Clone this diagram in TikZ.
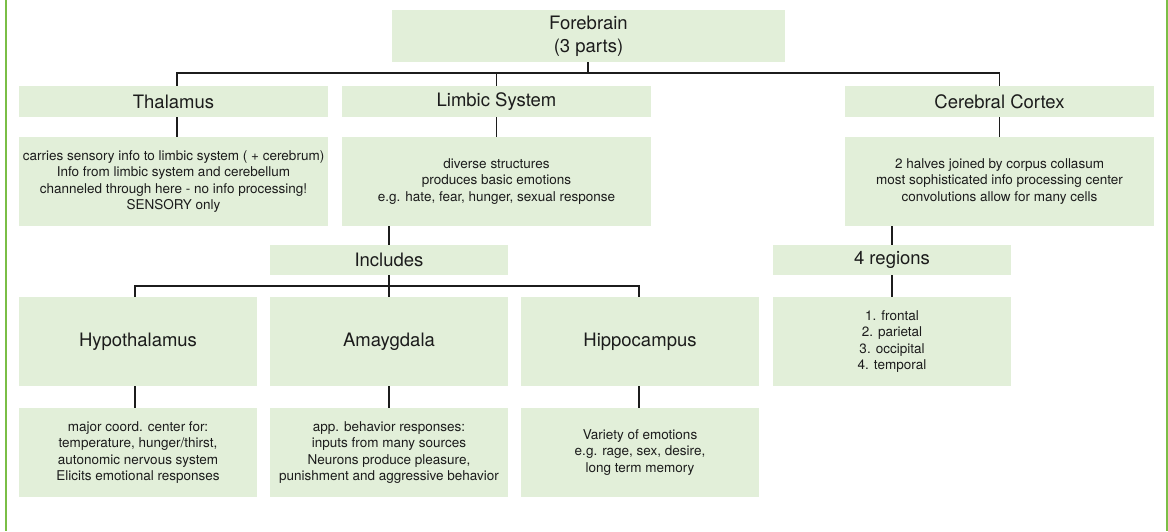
\documentclass[tikz,border=0pt]{standalone}
\usepackage{fontspec}
\setmainfont{TeX Gyre Heros}
\definecolor{boxfill}{HTML}{E2EFD9}
\definecolor{edgegreen}{RGB}{122,190,70}
\definecolor{ink}{HTML}{1C1C1C}
\begin{document}
\begin{tikzpicture}[x=1pt,y=-1pt,
  box/.style={fill=boxfill, draw=none, inner sep=0pt, align=center, text=ink},
  head/.style={box, font=\fontsize{18.5}{23}\selectfont},
  desc/.style={box, font=\fontsize{13.5}{16.3}\selectfont},
  link/.style={draw=ink, line width=1.7pt}]
\useasboundingbox (0,0) rectangle (1168,531);
% side rules
\fill[edgegreen] (4.5,0) rectangle (7,531);
\fill[edgegreen] (1166,0) rectangle (1168,531);

% top level
\node[head, minimum width=393pt, minimum height=52pt] (fore) at (588.5,36) {Forebrain\\(3 parts)};

% three parts
\node[head, minimum width=309pt, minimum height=31pt] (thal) at (173.5,101.5) {Thalamus};
\node[head, minimum width=309pt, minimum height=31pt] (limb) at (496.5,101.5) {Limbic System};
\node[head, minimum width=309pt, minimum height=31pt] (cort) at (999.5,101.5) {Cerebral Cortex};

\node[desc, minimum width=309pt, minimum height=89pt] (thald) at (173.5,181.5)
  {carries sensory info to limbic system ( + cerebrum)\\Info from limbic system and cerebellum\\channeled through here - no info processing!\\SENSORY only};
\node[desc, minimum width=309pt, minimum height=89pt] (limbd) at (496.5,181.5)
  {diverse structures\\produces basic emotions\\e.g. hate, fear, hunger, sexual response};
\node[desc, minimum width=309pt, minimum height=89pt] (cortd) at (999.5,181.5)
  {2 halves joined by corpus collasum\\most sophisticated info processing center\\convolutions allow for many cells};

% second level
\node[head, minimum width=238pt, minimum height=30pt] (incl) at (389,260) {Includes};
\node[head, minimum width=238pt, minimum height=30pt] (regs) at (892,260) {4 regions};

\node[head, minimum width=238pt, minimum height=89pt] (hypo) at (138,341.5) {Hypothalamus};
\node[head, minimum width=238pt, minimum height=89pt] (amyg) at (389,341.5) {Amaygdala};
\node[head, minimum width=238pt, minimum height=89pt] (hipp) at (640,341.5) {Hippocampus};
\node[desc, minimum width=238pt, minimum height=89pt] (regsd) at (892,341.5)
  {1. frontal\\2. parietal\\3. occipital\\4. temporal};

\node[desc, minimum width=238pt, minimum height=89pt] (hypod) at (138,452.5)
  {major coord. center for:\\temperature, hunger/thirst,\\autonomic nervous system\\Elicits emotional responses};
\node[desc, minimum width=238pt, minimum height=89pt] (amygd) at (389,452.5)
  {app. behavior responses:\\inputs from many sources\\Neurons produce pleasure,\\punishment and aggressive behavior};
\node[desc, minimum width=238pt, minimum height=89pt] (hippd) at (640,452.5)
  {Variety of emotions\\e.g. rage, sex, desire,\\long term memory};

% connectors
\coordinate (bus1) at (588,73);
\coordinate (bus2) at (389,286);
\draw[link] (fore.south -| bus1) -- (bus1);
\draw[link] ([xshift=3.5pt]thal.north) |- (bus1) -| (cort.north);
\draw[link] (limb.north) -- (limb.north |- bus1);

\draw[link] ([xshift=3.5pt]thal.south) -- ([xshift=3.5pt]thald.north);
\draw[link] (limb.south) -- (limbd.north);
\draw[link] (cort.south) -- (cortd.north);

\draw[link] (limbd.south -| incl.north) -- (incl.north);
\draw[link] (cortd.south -| regs.north) -- (regs.north);
\draw[link] (regs.south) -- (regsd.north);

\draw[link] (incl.south) -- (bus2);
\draw[link] ([xshift=-3pt]hypo.north) |- (bus2) -| ([xshift=-1pt]hipp.north);
\draw[link] (amyg.north) -- (amyg.north |- bus2);

\draw[link] ([xshift=-3pt]hypo.south) -- ([xshift=-3pt]hypod.north);
\draw[link] (amyg.south) -- (amygd.north);
\draw[link] ([xshift=-1pt]hipp.south) -- ([xshift=-1pt]hippd.north);
\end{tikzpicture}
\end{document}
